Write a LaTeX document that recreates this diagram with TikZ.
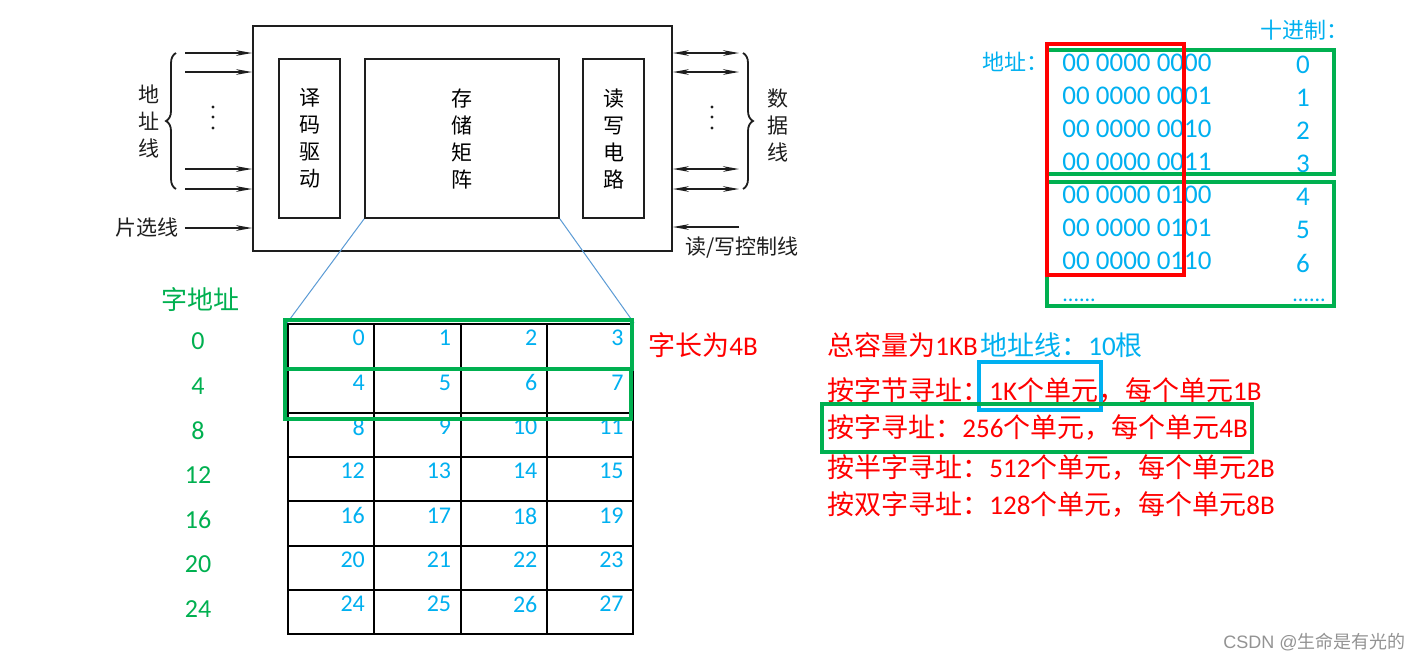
\documentclass[tikz,border=0pt]{standalone}
\usepackage{fontspec}
\setmainfont{Carlito}
\newfontfamily\cjk{Noto Sans CJK SC}
\newfontfamily\wmfont{Liberation Sans}
\usetikzlibrary{arrows.meta, positioning, decorations.pathreplacing, calc}
\definecolor{msblue}{RGB}{0, 176, 240}
\definecolor{msgreen}{RGB}{0, 176, 80}
\definecolor{msred}{RGB}{255, 0, 0}
\definecolor{linkblue}{RGB}{91, 155, 213}
\definecolor{ink}{RGB}{30, 30, 30}
\newcommand{\zh}[1]{{\cjk #1}}

\begin{document}
\begin{tikzpicture}[x=0.5pt, y=-0.5pt,
    arr/.style={-{Stealth[length=8pt, width=2.8pt]}, ink, line width=0.9pt},
    biarr/.style={{Stealth[length=8pt, width=2.8pt]}-{Stealth[length=8pt, width=2.8pt]}, ink, line width=0.9pt},
    unit/.style={draw=ink, line width=0.9pt, fill=white, inner sep=0, align=center,
                 font=\cjk\fontsize{10.5}{13.5}\selectfont},
    zhlbl/.style={inner sep=0, align=center, text=ink, font=\cjk\fontsize{10.5}{13.5}\selectfont},
    cell/.style={draw, line width=1pt, anchor=north west, inner sep=0,
                 minimum width=43.125pt, minimum height=22.15pt},
    num/.style={text=msblue, anchor=north east, inner sep=0, font=\fontsize{12}{14}\selectfont},
    grnlbl/.style={text=msgreen, inner sep=0, font=\fontsize{13}{15}\selectfont},
    redtxt/.style={text=msred, anchor=west, inner sep=0, font=\fontsize{13.5}{15}\selectfont},
    bluetxt/.style={text=msblue, anchor=west, inner sep=0, font=\fontsize{13.5}{15}\selectfont},
    headtxt/.style={text=msblue, anchor=west, inner sep=0, font=\cjk\fontsize{11}{13}\selectfont},
    brc/.style={ink, line width=0.9pt, decorate, decoration={brace, amplitude=5pt}}]
  \fill[white] (0,0) rectangle (1428,661);

  \node[unit, minimum width=209.5pt, minimum height=112.5pt] (chip) at (462.5,138.5) {};
  \node[unit, minimum width=30.5pt, minimum height=79.5pt] (dec) at (309.5,138.5) {译\\码\\驱\\动};
  \node[unit, minimum width=97pt, minimum height=79.5pt] (mat) at (462,138.5) {存\\储\\矩\\阵};
  \node[unit, minimum width=30.5pt, minimum height=79.5pt] (rwc) at (613.5,138.5) {读\\写\\电\\路};

  \foreach \y [count=\i] in {53,72,169,189} {
    \coordinate (a\i) at (185,\y);
    \draw[arr] (a\i) -- (a\i -| chip.west);
    \coordinate (d\i) at (739,\y);
    \draw[biarr] (d\i -| chip.east) -- (d\i);
  }
  \foreach \y in {107,117,128} {
    \fill[ink] (213,\y) circle (0.8pt);
    \fill[ink] (712,\y) circle (0.8pt);
  }
  \draw[brc] (176,189) -- (176,53);
  \draw[brc] (743,53) -- (743,189);
  \node[zhlbl] (addrl) at (149,121) {地\\址\\线};
  \node[zhlbl] (datal) at (778,125) {数\\据\\线};
  \node[zhlbl, inner xsep=3pt] (csl) at (147,228) {片选线};
  \draw[arr] (csl.east) -- (csl.east -| chip.west);
  \coordinate (rw) at (739,227);
  \draw[arr] (rw) -- (rw -| chip.east);
  \node[zhlbl] (rwl) at (742,248) {读/写控制线};

  \foreach \r in {0,...,6} {
    \foreach \c in {0,...,3} {
      \pgfmathtruncatemacro{\n}{4*\r+\c}
      \node[cell] (c\r\c) at ({287+86.25*\c},{323+44.3*\r}) {};
      \node[num] (n\r\c) at ([xshift=-5pt, yshift=-3.5pt]c\r\c.north east) {\n};
    }
  }
  \draw[linkblue, line width=0.5pt] (mat.south west) -- (c00.north west);
  \draw[linkblue, line width=0.5pt] (mat.south east) -- (c03.north east);
  \draw[msgreen, line width=2.2pt] (285,320) rectangle (632,369);
  \draw[msgreen, line width=2.2pt] (285,369) rectangle (631,419);

  \node[grnlbl] (wa) at (200,300) {\zh{字地址}};
  \foreach \v [count=\i from 0] in {0,4,...,24}
    \node[grnlbl] (w\i) at (198,{341+44.7*\i}) {\v};
  \node[redtxt] (wlen) at (648,345) {\zh{字长为}4B};

  \node[headtxt] (addrh) at (982,62) {地址：};
  \node[headtxt] (dech) at (1260,30) {十进制：};
  \foreach \b/\d [count=\i] in {0000/0, 0001/1, 0010/2, 0011/3, 0100/4, 0101/5, 0110/6} {
    \node[bluetxt] (b\i) at (1062,{63+33*(\i-1)}) {00 0000 \b};
    \node[bluetxt, anchor=center] (dd\i) at (1303,{65+33*(\i-1)}) {\d};
  }
  \node[bluetxt, font=\fontsize{11}{12}\selectfont] (bdots) at (1062,300) {......};
  \node[bluetxt, font=\fontsize{11}{12}\selectfont] (ddots) at (1292,300) {......};
  \draw[msgreen, line width=1.8pt] (1047,50) rectangle (1334,174);
  \draw[msgreen, line width=1.8pt] (1047,182) rectangle (1334,306);
  \draw[msred, line width=2pt] (1047,44) rectangle (1184,275);

  \node[redtxt] (cap) at (827,345) {\zh{总容量为}1KB};
  \node[bluetxt] (alines) at (980,345) {\zh{地址线：}10\zh{根}};
  \node[redtxt] (m1) at (827,390) {\zh{按字节寻址：}1K\zh{个单元，每个单元}1B};
  \node[redtxt] (m2) at (827,427) {\zh{按字寻址：}256\zh{个单元，每个单元}4B};
  \node[redtxt] (m3) at (827,467) {\zh{按半字寻址：}512\zh{个单元，每个单元}2B};
  \node[redtxt] (m4) at (827,504) {\zh{按双字寻址：}128\zh{个单元，每个单元}8B};
  \draw[msblue, line width=2pt] (979,362) rectangle (1101,410);
  \draw[msgreen, line width=2pt] (822,404) rectangle (1252,452);

  \node[anchor=west, inner sep=0, text=gray!85, font=\wmfont\fontsize{9}{10}\selectfont] (wm)
    at (1223,642) {CSDN @\zh{生命是有光的}};
\end{tikzpicture}
\end{document}
